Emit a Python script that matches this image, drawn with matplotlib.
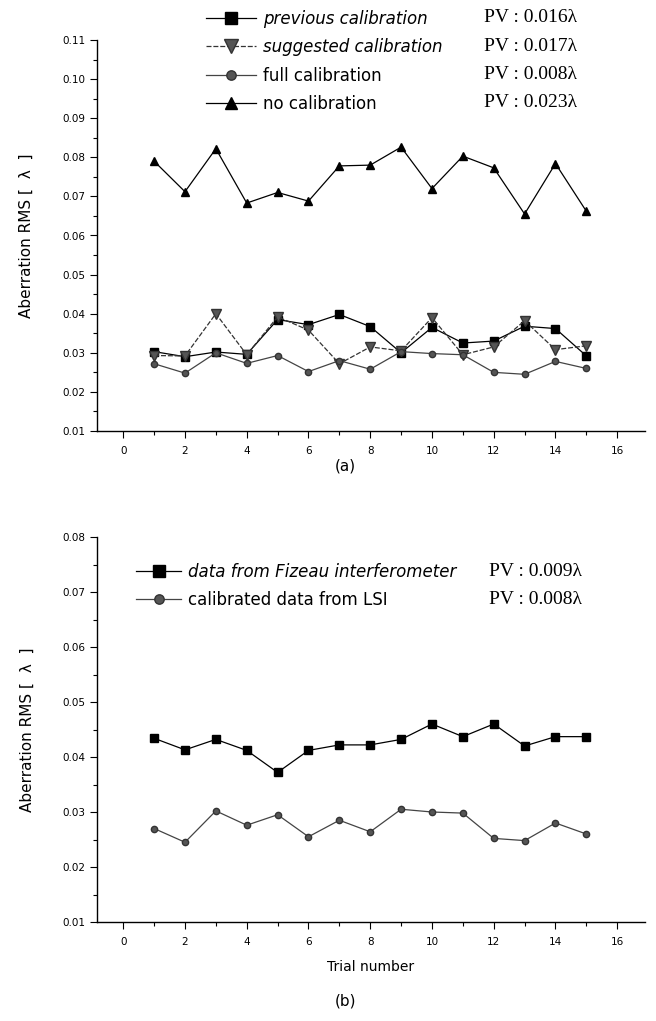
import matplotlib
matplotlib.use("Agg")
import matplotlib.pyplot as plt
from matplotlib.ticker import MultipleLocator, FormatStrFormatter

trials = list(range(1, 16))

# (a) top panel
previous_cal = [0.0303, 0.0290, 0.0302, 0.0296, 0.0385, 0.0372, 0.0398, 0.0367, 0.0300, 0.0365, 0.0325, 0.0330, 0.0368, 0.0362, 0.0292]
suggested_cal = [0.0293, 0.0292, 0.0400, 0.0295, 0.0392, 0.0358, 0.0272, 0.0315, 0.0305, 0.0390, 0.0295, 0.0315, 0.0382, 0.0308, 0.0318]
full_cal = [0.0272, 0.0248, 0.0300, 0.0273, 0.0293, 0.0252, 0.0280, 0.0258, 0.0303, 0.0298, 0.0295, 0.0250, 0.0245, 0.0278, 0.0260]
no_cal = [0.0790, 0.0712, 0.0822, 0.0683, 0.0710, 0.0688, 0.0778, 0.0780, 0.0826, 0.0720, 0.0803, 0.0773, 0.0655, 0.0784, 0.0662]
labels_a = ["previous calibration", "suggested calibration", "full calibration", "no calibration"]
pv_a = ["PV : 0.016\u03bb", "PV : 0.017\u03bb", "PV : 0.008\u03bb", "PV : 0.023\u03bb"]

# (b) bottom panel
fizeau = [0.0434, 0.0413, 0.0432, 0.0412, 0.0372, 0.0412, 0.0422, 0.0422, 0.0432, 0.0460, 0.0437, 0.0460, 0.0420, 0.0437, 0.0437]
lsi = [0.0270, 0.0245, 0.0302, 0.0276, 0.0295, 0.0255, 0.0285, 0.0264, 0.0305, 0.0300, 0.0298, 0.0252, 0.0248, 0.0280, 0.0260]
labels_b = ["data from Fizeau interferometer", "calibrated data from LSI"]
pv_b = ["PV : 0.009\u03bb", "PV : 0.008\u03bb"]

x_ticks = list(range(0, 17, 2))

W, H = 656, 1021
fig = plt.figure(figsize=(W / 100, H / 100), dpi=100)
plt.rcParams['font.family'] = ['DejaVu Sans']


def fx(px):
    return px / W


def fy(py):
    return 1 - py / H


def style_axes(ax, ymin, ymax):
    ax.set_xlim(-0.85, 16.9)
    ax.set_ylim(ymin, ymax)
    for s in ["top", "right"]:
        ax.spines[s].set_visible(False)
    for s in ["left", "bottom"]:
        ax.spines[s].set_linewidth(1.0)
    ax.set_xticks(x_ticks)
    ax.xaxis.set_minor_locator(MultipleLocator(1))
    ax.yaxis.set_major_locator(MultipleLocator(0.01))
    ax.yaxis.set_minor_locator(MultipleLocator(0.005))
    ax.yaxis.set_major_formatter(FormatStrFormatter('%.2f'))
    ax.tick_params(axis='both', which='major', direction='out', length=5, width=0.8, labelsize=7.5)
    ax.tick_params(axis='both', which='minor', direction='out', length=3, width=0.8)
    ax.tick_params(axis='x', pad=6)
    ax.set_ylabel("Aberration RMS [  \u03bb  ]", fontsize=11, labelpad=20)


lw = 0.9
LFS = 12
# ---------- top panel ----------
ax1 = fig.add_axes([fx(97), fy(431), fx(645 - 97), (431 - 40) / H])
l1, = ax1.plot(trials, previous_cal, color='black', lw=lw, marker='s', ms=5.5, mfc='black', mec='black')
l2, = ax1.plot(trials, suggested_cal, color='#333333', lw=lw, ls=(0, (4, 1.5)), marker='v', ms=6.5, mfc='#555555', mec='#333333')
l3, = ax1.plot(trials, full_cal, color='#444444', lw=lw, marker='o', ms=4.5, mfc='#555555', mec='#333333')
l4, = ax1.plot(trials, no_cal, color='black', lw=lw, marker='^', ms=6, mfc='black', mec='black')
style_axes(ax1, 0.01, 0.11)

legA = fig.legend([l1, l2, l3, l4], labels_a, loc='upper left',
                  bbox_to_anchor=(fx(191), fy(-5)), frameon=False,
                  fontsize=LFS, handlelength=3.0, handletextpad=0.4,
                  labelspacing=0.62, markerscale=1.5)
for t, it in zip(legA.get_texts(), [True, True, False, False]):
    t.set_style('italic' if it else 'normal')
for i, pv in enumerate(pv_a):
    fig.text(fx(484), fy(18 + i * 28.3), pv, fontsize=14, family='Liberation Serif', va='center', ha='left')

fig.text(fx(345), fy(466), "(a)", fontsize=11, ha='center', va='center')

# ---------- bottom panel ----------
ax2 = fig.add_axes([fx(97), fy(922), fx(645 - 97), (922 - 537) / H])
m1, = ax2.plot(trials, fizeau, color='black', lw=lw, marker='s', ms=5.5, mfc='black', mec='black')
m2, = ax2.plot(trials, lsi, color='#444444', lw=lw, marker='o', ms=4.5, mfc='#555555', mec='#333333')
style_axes(ax2, 0.01, 0.08)
ax2.set_xlabel("Trial number", fontsize=10, labelpad=9)

legB = fig.legend([m1, m2], labels_b, loc='upper left',
                  bbox_to_anchor=(fx(121), fy(548)), frameon=False,
                  fontsize=LFS, handlelength=2.7, handletextpad=0.4,
                  labelspacing=0.62, markerscale=1.5)
for t, it in zip(legB.get_texts(), [True, False]):
    t.set_style('italic' if it else 'normal')
for i, pv in enumerate(pv_b):
    fig.text(fx(489), fy(572 + i * 28), pv, fontsize=14, family='Liberation Serif', va='center', ha='left')

fig.text(fx(345), fy(1001), "(b)", fontsize=11, ha='center', va='center')

fig.savefig("out.png", dpi=100)
